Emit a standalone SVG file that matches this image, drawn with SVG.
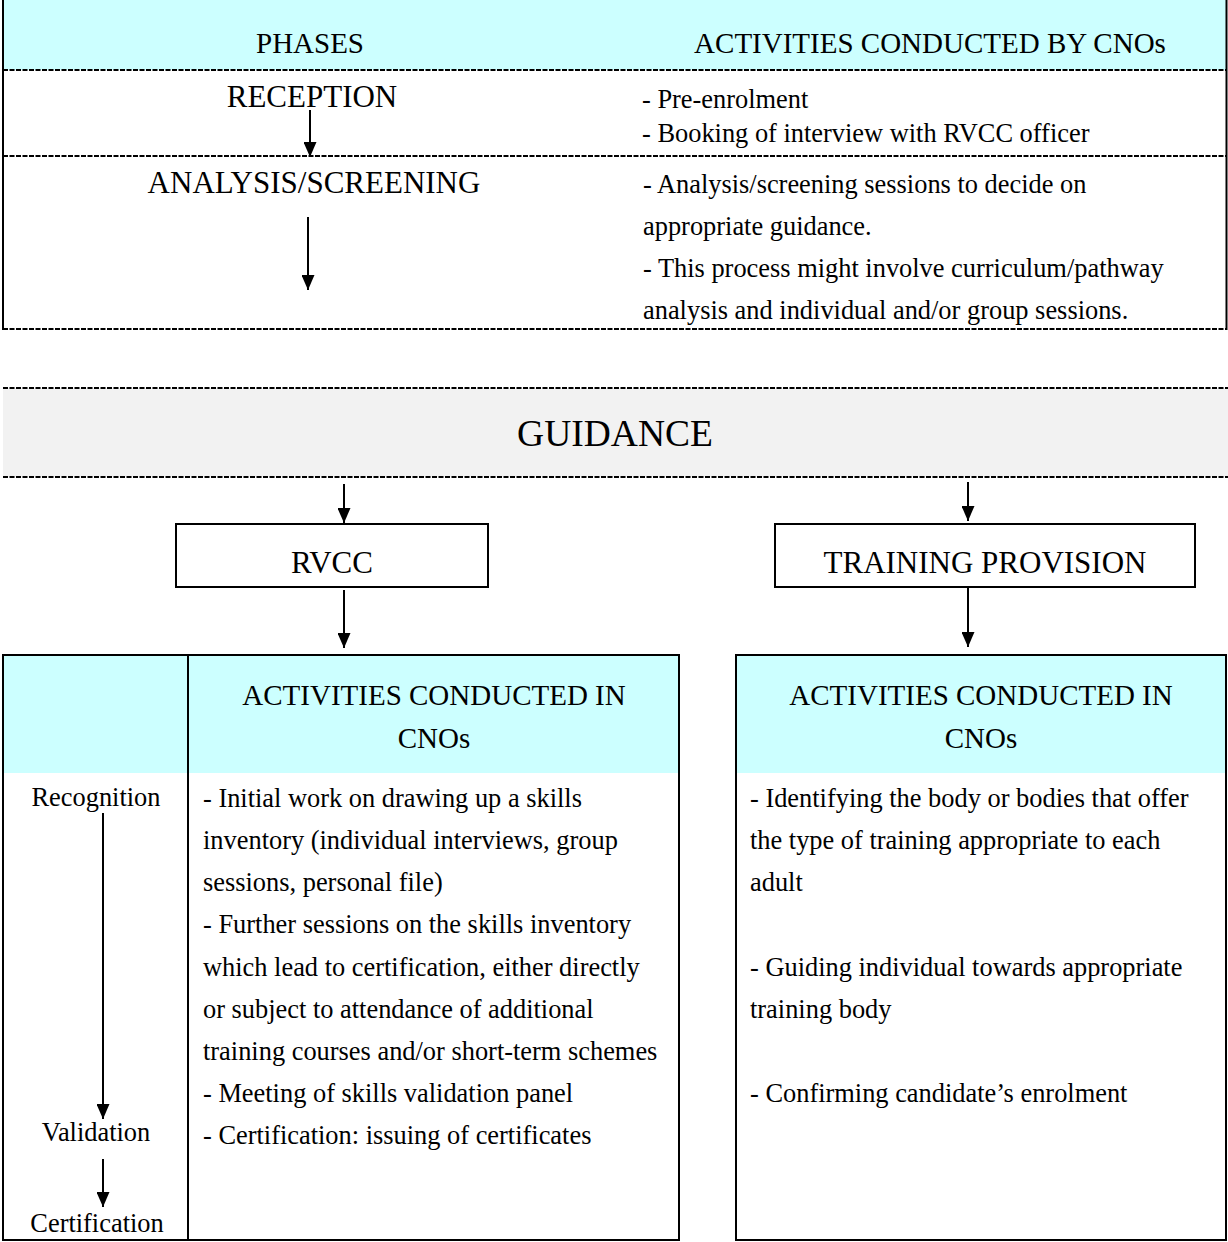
<svg xmlns="http://www.w3.org/2000/svg" width="1228" height="1242" viewBox="0 0 1228 1242">
<defs>
<marker id="ah" viewBox="0 0 15 13" refX="15" refY="6.5" markerWidth="15" markerHeight="13" markerUnits="userSpaceOnUse" orient="auto">
<path d="M0,0 L15,6.5 L0,13 Z" fill="#000"/>
</marker>
</defs>
<style>
text{font-family:"Liberation Serif","Times New Roman",serif;fill:#000}
.hd{font-size:29px;text-anchor:middle}
.ph{font-size:31px;text-anchor:middle}
.bd{font-size:26.4px}
.bc{font-size:26.4px;text-anchor:middle}
.dash{stroke:#000;stroke-width:2;stroke-dasharray:5 1.5;fill:none}
.solid{stroke:#000;stroke-width:2;fill:none}
.arr{stroke:#000;stroke-width:2;fill:none}
</style>
<rect width="1228" height="1242" fill="#fff"/>

<g id="phases-table">
<rect x="3" y="0" width="1223" height="70" fill="#ccffff"/>
<text class="hd" x="310" y="53">PHASES</text>
<text class="hd" x="930" y="53">ACTIVITIES CONDUCTED BY CNOs</text>
<line class="dash" x1="3" y1="70" x2="1227" y2="70"/>
<line class="dash" x1="3" y1="156" x2="1227" y2="156"/>
<line class="dash" x1="3" y1="329" x2="1227" y2="329"/>
<line class="solid" x1="3" y1="0" x2="3" y2="330"/>
<line class="solid" x1="1226.5" y1="0" x2="1226.5" y2="330"/>
</g>

<g id="reception">
<text class="ph" x="312" y="107">RECEPTION</text>
<text class="bd" x="642" y="108">- Pre-enrolment</text>
<text class="bd" x="642" y="142">- Booking of interview with RVCC officer</text>
</g>

<g id="analysis">
<text class="ph" x="314" y="193">ANALYSIS/SCREENING</text>
<text class="bd" x="643" y="193">- Analysis/screening sessions to decide on</text>
<text class="bd" x="643" y="235">appropriate guidance.</text>
<text class="bd" x="643" y="277">- This process might involve curriculum/pathway</text>
<text class="bd" x="643" y="319">analysis and individual and/or group sessions.</text>
</g>

<g id="guidance">
<rect x="3" y="388" width="1225" height="89" fill="#f2f2f2"/>
<line class="dash" x1="3" y1="388" x2="1228" y2="388"/>
<line class="dash" x1="3" y1="477" x2="1228" y2="477"/>
<text x="615" y="446" style="font-size:37.5px;text-anchor:middle">GUIDANCE</text>
</g>

<g id="rvcc">
<rect class="solid" x="176" y="524" width="312" height="63" fill="#fff"/>
<text class="ph" x="332" y="573">RVCC</text>
</g>

<g id="training-provision">
<rect class="solid" x="775" y="524" width="420" height="63" fill="#fff"/>
<text class="ph" x="985" y="573">TRAINING PROVISION</text>
</g>

<g id="rvcc-activities">
<rect x="3" y="655" width="676" height="118" fill="#ccffff"/>
<rect class="solid" x="3" y="655" width="676" height="585"/>
<line class="solid" x1="188" y1="655" x2="188" y2="1240"/>
<text class="hd" x="434" y="705">ACTIVITIES CONDUCTED IN</text>
<text class="hd" x="434" y="748">CNOs</text>
<text class="bc" x="96" y="806">Recognition</text>
<text class="bc" x="96" y="1141">Validation</text>
<text class="bc" x="97" y="1232">Certification</text>
<text class="bd" x="203" y="807">- Initial work on drawing up a skills</text>
<text class="bd" x="203" y="849">inventory (individual interviews, group</text>
<text class="bd" x="203" y="891">sessions, personal file)</text>
<text class="bd" x="203" y="933">- Further sessions on the skills inventory</text>
<text class="bd" x="203" y="976">which lead to certification, either directly</text>
<text class="bd" x="203" y="1018">or subject to attendance of additional</text>
<text class="bd" x="203" y="1060">training courses and/or short-term schemes</text>
<text class="bd" x="203" y="1102">- Meeting of skills validation panel</text>
<text class="bd" x="203" y="1144">- Certification: issuing of certificates</text>
</g>

<g id="training-activities">
<rect x="736" y="655" width="490" height="118" fill="#ccffff"/>
<rect class="solid" x="736" y="655" width="490" height="585"/>
<text class="hd" x="981" y="705">ACTIVITIES CONDUCTED IN</text>
<text class="hd" x="981" y="748">CNOs</text>
<text class="bd" x="750" y="807">- Identifying the body or bodies that offer</text>
<text class="bd" x="750" y="849">the type of training appropriate to each</text>
<text class="bd" x="750" y="891">adult</text>
<text class="bd" x="750" y="976">- Guiding individual towards appropriate</text>
<text class="bd" x="750" y="1018">training body</text>
<text class="bd" x="750" y="1102">- Confirming candidate’s enrolment</text>
</g>

<g id="connectors">
<line class="arr" x1="310" y1="110" x2="310" y2="157" marker-end="url(#ah)"/>
<line class="arr" x1="308" y1="217" x2="308" y2="290" marker-end="url(#ah)"/>
<line class="arr" x1="344" y1="484" x2="344" y2="523" marker-end="url(#ah)"/>
<line class="arr" x1="968" y1="482" x2="968" y2="521" marker-end="url(#ah)"/>
<line class="arr" x1="344" y1="590" x2="344" y2="648" marker-end="url(#ah)"/>
<line class="arr" x1="968" y1="588" x2="968" y2="647" marker-end="url(#ah)"/>
<line class="arr" x1="103" y1="813" x2="103" y2="1119" marker-end="url(#ah)"/>
<line class="arr" x1="103" y1="1159" x2="103" y2="1207" marker-end="url(#ah)"/>
</g>
</svg>
